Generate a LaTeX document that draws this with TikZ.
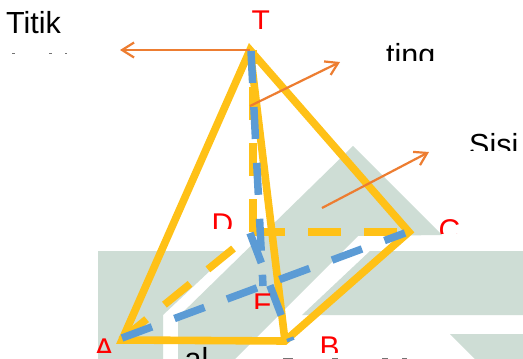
\documentclass[tikz,border=0pt]{standalone}
\usepackage{fontspec}
\setmainfont{Liberation Sans}
\usetikzlibrary{arrows.meta}
\definecolor{bgshape}{HTML}{CEDDD5}
\definecolor{edgeyellow}{HTML}{FFC117}
\definecolor{edgeblue}{HTML}{5B9BD5}
\definecolor{arroworange}{HTML}{ED7D31}
\tikzset{
  bgpoly/.style={fill=bgshape,draw=none},
  solidedge/.style={draw=edgeyellow,line width=7.6pt,miter limit=10},
  hiddenedge/.style={draw=edgeyellow,line width=7.5pt,dash pattern=on 33pt off 23pt},
  blueedge/.style={draw=edgeblue,line width=7.5pt,dash pattern=on 32pt off 24pt},
  pointer/.style={draw=arroworange,line width=2.2pt,-{Straight Barb[length=12pt,width=15pt,line width=2.2pt]}},
  vertexlabel/.style={text=red,font=\fontsize{30}{30}\selectfont,anchor=base west,inner sep=0pt},
  caption/.style={text=black,font=\fontsize{30.5}{30}\selectfont,anchor=base west,inner sep=0pt},
  speck/.style={fill=black!55,draw=none}
}
\begin{document}
\begin{tikzpicture}[x=1pt,y=-1pt]
\useasboundingbox (0,0) rectangle (523,359);
\fill[white] (0,0) rectangle (523,359);
% background shapes
\fill[bgpoly] (98,251) -- (231,251) -- (163,315) -- (163,359) -- (98,359) -- cycle;
\fill[bgpoly] (178,359) -- (178,317) -- (353,146) -- (442,235) -- (358,236) -- (235,359) -- cycle;
\fill[bgpoly] (370,251) -- (523,251) -- (523,315) -- (302,315) -- cycle;
\fill[bgpoly] (450,334) -- (523,334) -- (523,359) -- (475,359) -- cycle;
% vertices
\coordinate (T) at (250,50);
\coordinate (A) at (122,340);
\coordinate (B) at (285,341);
\coordinate (C) at (409,232);
\coordinate (D) at (252,232);
\coordinate (Dtop) at (253,232);
\coordinate (Ttop) at (253,50);
\coordinate (Dd) at (233.5,248.5);
\coordinate (Ad) at (121,340);
\coordinate (ACa) at (122,338);
\coordinate (ACb) at (405,233);
\coordinate (Tb) at (251,51);
\coordinate (Fb) at (263,286);
\coordinate (Db) at (250,233);
\coordinate (Bb) at (291,341);
% hidden edges
\draw[hiddenedge] (Ad) -- (Dd);
\draw[hiddenedge] (D) -- (C);
\draw[hiddenedge] (Dtop) -- (Ttop);
% visible edges
\draw[solidedge] (A) -- (B) -- (C) -- (T) -- cycle;
\draw[solidedge] (T) -- (B);
% blue dashed lines
\draw[blueedge] (ACa) -- (ACb);
\draw[blueedge] (Tb) -- (Fb);
\draw[blueedge] (Db) -- (Bb);
% pointers
\coordinate (p1s) at (250,50);
\coordinate (p1e) at (120,50);
\coordinate (p2s) at (250,106);
\coordinate (p2e) at (340,62);
\coordinate (p3s) at (322,208);
\coordinate (p3e) at (429,152);
\draw[pointer] (p1s) -- (p1e);
\draw[pointer] (p2s) -- (p2e);
\draw[pointer] (p3s) -- (p3e);
% vertex labels
\begin{scope}\clip (245,0) rectangle (280,28);
\node[vertexlabel] (lT) at (251.5,31.5) {T};\end{scope}
\begin{scope}\clip (205,205) rectangle (240,228);
\node[vertexlabel] (lD) at (211.5,234.5) {D};\end{scope}
\begin{scope}\clip (435,210) rectangle (470,233);
\node[vertexlabel] (lC) at (438.5,240.5) {C};\end{scope}
\begin{scope}\clip (250,285) rectangle (275,308);
\node[vertexlabel] (lF) at (253,314.5) {F};\end{scope}
\begin{scope}\clip (315,330) rectangle (350,352);
\node[vertexlabel] (lB) at (319.5,357.5) {B};\end{scope}
\begin{scope}\clip (90,330) rectangle (120,352);
\node[vertexlabel] (lA) at (94,359.5) {A};\end{scope}
% captions
\node[caption] (tTitik) at (6,33) {Titik};
\begin{scope}\clip (380,35) rectangle (445,60);
\node[caption] (tTing) at (386,65) {ting};\end{scope}
\begin{scope}\clip (465,125) rectangle (523,150);
\node[caption] (tSisi) at (469,155) {Sisi};\end{scope}
\begin{scope}\clip (180,340) rectangle (209,359);
\node[caption] (tAl) at (184.5,369.5) {al};\end{scope}
% cut-off remains of text
\fill[speck] (12,52.6) rectangle (15,53.6);
\fill[speck] (49,52.6) rectangle (52,53.6);
\fill[speck] (65,52.6) rectangle (67,53.6);
\fill[speck] (283,358) rectangle (293,359);
\fill[speck] (332,358) rectangle (338,359);
\fill[speck] (382,358) rectangle (388,359);
\fill[speck] (402,358) rectangle (407,359);
\end{tikzpicture}
\end{document}
